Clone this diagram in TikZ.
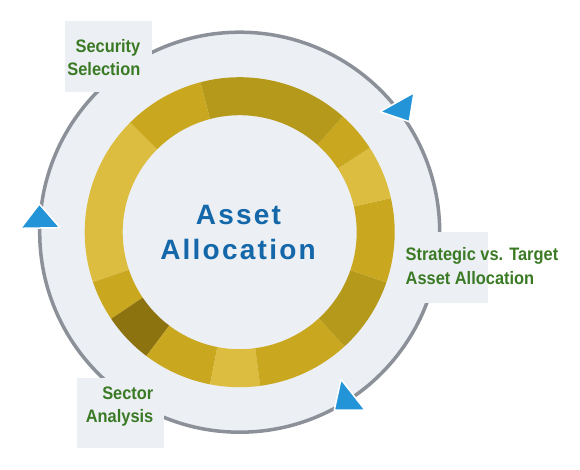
\documentclass[tikz,border=0pt]{standalone}
\usepackage{fontspec}
\usepackage{graphicx}
\setmainfont{Liberation Sans}
\definecolor{bgc}{HTML}{ECEFF4}
\definecolor{ringline}{HTML}{8C9199}
\definecolor{gmed}{HTML}{C9A820}
\definecolor{glight}{HTML}{DCBD3F}
\definecolor{gdarker}{HTML}{B5991A}
\definecolor{gdark}{HTML}{8C7310}
\definecolor{lblgreen}{HTML}{3B7A25}
\definecolor{ctrblue}{HTML}{1467A8}
\definecolor{triblue}{HTML}{2394D8}
\newcommand{\tallbox}[1]{\scalebox{1}[1.1]{#1}}
\tikzset{
  lbl/.style={text=lblgreen, font=\fontsize{16.4}{20}\selectfont\bfseries, inner sep=0pt},
  ctr/.style={text=ctrblue, font=\fontsize{28}{34}\selectfont\bfseries\addfontfeatures{LetterSpace=8}, inner sep=0pt, anchor=base},
  tri/.style={fill=triblue, draw=white, line width=1.5pt, line join=round},
  boxfill/.style={fill=bgc}
}
\newcommand{\ringseg}[3]{%
  \fill[#3] (#1:155) arc[start angle=#1, end angle=#2, radius=155]
    -- (#2:117) arc[start angle=#2, end angle=#1, radius=117] -- cycle;}
\begin{document}
\begin{tikzpicture}[x=1pt,y=-1pt]
\useasboundingbox (0,0) rectangle (580,470);
\coordinate (c) at (239.7,232.2);
% outer disc
\fill[bgc] (c) circle (200);
\draw[ringline, line width=3.5pt] (c) circle (200);
% ring segments
\begin{scope}[shift={(c)}, yscale=-1]
  \ringseg{-47.5}{-18.9}{gdarker}
  \ringseg{-18.9}{12.7}{gmed}
  \ringseg{12.7}{33}{glight}
  \ringseg{33}{48.4}{gmed}
  \ringseg{48.4}{104.7}{gdarker}
  \ringseg{104.7}{135}{gmed}
  \ringseg{135}{198.8}{glight}
  \ringseg{198.8}{214}{gmed}
  \ringseg{214}{233}{gdark}
  \ringseg{233}{259}{gmed}
  \ringseg{259}{277.6}{glight}
  \ringseg{277.6}{312.5}{gmed}
\end{scope}
% label boxes
\fill[boxfill] (65,21) rectangle (152,92);
\fill[boxfill] (77,378) rectangle (164,448);
\fill[boxfill] (395,232) rectangle (488,303);
% triangles
\draw[tri] (380,111.7) -- (414,92.7) -- (409.3,121.7) -- cycle;
\draw[tri] (20.7,228.3) -- (60,227.7) -- (39.3,204) -- cycle;
\draw[tri] (341,379.3) -- (334.3,410) -- (365,410) -- cycle;
% center text
\node[ctr] (ctr1) at (238.5,224.5) {Asset};
\node[ctr] (ctr2) at (238,259.5) {Allocation};
% labels
\node[lbl, anchor=base east] (sec1) at (140.5,53) {\tallbox{Security}};
\node[lbl, anchor=base east] (sec2) at (140.5,76) {\tallbox{Selection}};
\node[lbl, anchor=base east] (sea1) at (153.5,399) {\tallbox{Sector}};
\node[lbl, anchor=base east] (sea2) at (153.5,422.7) {\tallbox{Analysis}};
\node[lbl, anchor=base west] (str1) at (405.5,260.7) {\tallbox{Strategic vs. Target}};
\node[lbl, anchor=base west] (str2) at (405.5,284.2) {\tallbox{Asset Allocation}};
\end{tikzpicture}
\end{document}
